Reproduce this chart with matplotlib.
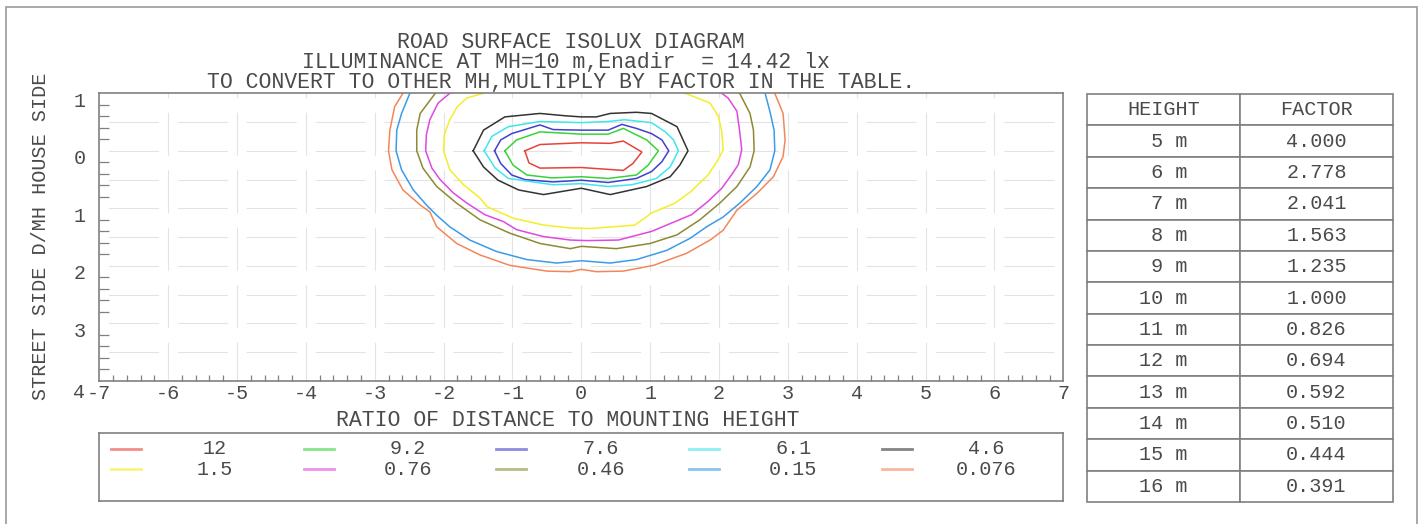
import matplotlib.pyplot as plt
from matplotlib.ticker import MultipleLocator, FixedLocator, FixedFormatter
from matplotlib.transforms import ScaledTranslation
from matplotlib.patches import Rectangle

plt.rcParams['font.family'] = ['Liberation Mono', 'DejaVu Sans Mono']
plt.rcParams['axes.unicode_minus'] = False
plt.rcParams['lines.scale_dashes'] = False

# isolux levels (lx) and their line colours
levels = ['12', '9.2', '7.6', '6.1', '4.6', '1.5', '0.76', '0.46', '0.15', '0.076']
colors = ['#e8423c', '#3ad13a', '#4040d0', '#3ee6ee', '#333333',
          '#f2ef2a', '#e048e0', '#8c8a32', '#3c9be8', '#f4865a']

# contour outlines: x = D/MH across, y = D/MH (house side negative)
x_12 = [-0.82, -0.76, -0.60, 0.0, 0.61, 0.75, 0.88, 0.61, 0.42, 0.0, -0.60, -0.82]
y_12 = [0.0, 0.21, 0.30, 0.29, 0.34, 0.22, 0.02, -0.17, -0.13, -0.14, -0.11, 0.0]

x_92 = [-1.11, -0.94, -0.60, 0.0, 0.39, 0.61, 0.95, 1.12, 0.97, 0.80, 0.39, 0.0, -0.43, -0.79, -0.99, -1.11]
y_92 = [0.0, -0.19, -0.33, -0.29, -0.29, -0.39, -0.19, 0.0, 0.25, 0.42, 0.48, 0.45, 0.47, 0.42, 0.25, 0.0]

x_76 = [-1.26, -1.17, -1.01, -0.60, -0.41, 0.0, 0.39, 0.59, 0.80, 1.02, 1.17, 1.27,
        1.17, 1.02, 0.80, 0.39, 0.0, -0.41, -0.82, -1.01, -1.17, -1.26]
y_76 = [0.0, -0.19, -0.30, -0.45, -0.37, -0.36, -0.36, -0.46, -0.39, -0.30, -0.19, 0.0,
        0.19, 0.36, 0.48, 0.55, 0.51, 0.54, 0.50, 0.42, 0.22, 0.0]

x_61 = [-1.41, -1.30, -1.06, -0.60, 0.0, 0.39, 0.63, 1.02, 1.22, 1.34, 1.41,
        1.29, 1.09, 0.73, 0.39, 0.0, -0.41, -1.06, -1.25, -1.41]
y_61 = [0.0, -0.25, -0.42, -0.51, -0.49, -0.51, -0.54, -0.49, -0.33, -0.19, 0.0,
        0.28, 0.48, 0.59, 0.62, 0.57, 0.59, 0.48, 0.30, 0.0]

x_46 = [-1.57, -1.42, -1.11, -0.60, -0.24, 0.0, 0.22, 0.42, 0.80, 1.02, 1.39, 1.55,
        1.43, 1.29, 0.95, 0.42, 0.0, -0.55, -0.91, -1.21, -1.42, -1.57]
y_46 = [0.0, -0.36, -0.59, -0.65, -0.61, -0.59, -0.59, -0.65, -0.67, -0.65, -0.42, 0.0,
        0.25, 0.45, 0.62, 0.76, 0.65, 0.76, 0.68, 0.51, 0.28, 0.0]

x_15 = [-1.42, -1.66, -1.80, -1.91, -1.99, -2.00, -1.91, -1.71, -1.47, -1.37, -0.99, -0.55, -0.16,
        0.13, 0.78, 1.02, 1.36, 1.60, 1.84, 1.99, 2.06, 2.04, 1.99, 1.87, 1.51]
y_15 = [-1.0, -0.92, -0.77, -0.54, -0.28, 0.0, 0.33, 0.59, 0.82, 0.97, 1.17, 1.29, 1.34,
        1.35, 1.29, 1.08, 0.91, 0.70, 0.42, 0.15, -0.02, -0.34, -0.60, -0.83, -1.0]

x_076 = [-1.91, -2.08, -2.20, -2.25, -2.26, -2.17, -2.05, -1.86, -1.66, -1.40, -1.13, -0.94, -0.55, -0.16,
         0.08, 0.54, 1.02, 1.36, 1.60, 1.84, 2.04, 2.18, 2.28, 2.33, 2.30, 2.26, 2.13, 2.04]
y_076 = [-1.0, -0.83, -0.54, -0.28, 0.0, 0.30, 0.50, 0.73, 0.91, 1.11, 1.23, 1.37, 1.49, 1.55,
         1.56, 1.55, 1.40, 1.23, 1.11, 0.88, 0.65, 0.42, 0.24, -0.02, -0.34, -0.69, -0.92, -1.0]

x_046 = [-2.12, -2.34, -2.39, -2.39, -2.30, -2.10, -1.81, -1.47, -1.04, -0.60, -0.16, 0.0,
         0.51, 1.00, 1.39, 1.72, 2.01, 2.26, 2.45, 2.51, 2.50, 2.45, 2.30]
y_046 = [-1.0, -0.65, -0.36, 0.0, 0.30, 0.62, 0.91, 1.20, 1.43, 1.61, 1.70, 1.66,
         1.70, 1.61, 1.46, 1.20, 0.91, 0.62, 0.28, 0.0, -0.36, -0.65, -1.0]

x_015 = [-2.49, -2.61, -2.68, -2.69, -2.61, -2.44, -2.25, -2.10, -1.91, -1.62, -1.23, -0.79, -0.36, 0.0,
         0.42, 0.80, 1.24, 1.58, 1.82, 2.06, 2.30, 2.55, 2.74, 2.81, 2.80, 2.74, 2.67]
y_015 = [-1.0, -0.65, -0.36, 0.0, 0.33, 0.68, 0.94, 1.12, 1.32, 1.55, 1.75, 1.89, 1.95, 1.91,
         1.95, 1.89, 1.73, 1.52, 1.32, 1.15, 0.91, 0.62, 0.33, 0.0, -0.36, -0.68, -1.0]

x_0076 = [-2.59, -2.71, -2.78, -2.80, -2.75, -2.59, -2.34, -2.20, -2.10, -1.81, -1.47, -1.04, -0.50, -0.16,
          0.0, 0.22, 0.61, 1.05, 1.53, 1.87, 2.06, 2.26, 2.55, 2.79, 2.93, 2.96, 2.93, 2.81]
y_0076 = [-1.0, -0.77, -0.36, 0.0, 0.33, 0.68, 0.94, 1.06, 1.32, 1.61, 1.81, 1.99, 2.09, 2.10,
          2.06, 2.10, 2.09, 1.99, 1.78, 1.55, 1.38, 1.03, 0.74, 0.45, 0.10, -0.19, -0.65, -1.0]

contour_x = [x_12, x_92, x_76, x_61, x_46, x_15, x_076, x_046, x_015, x_0076]
contour_y = [y_12, y_92, y_76, y_61, y_46, y_15, y_076, y_046, y_015, y_0076]

ytick_vals = [-1, 0, 1, 2, 3, 4]
ytick_labels = ['1', '0', '1', '2', '3', '4']

heights = [5, 6, 7, 8, 9, 10, 11, 12, 13, 14, 15, 16]
factors = [4.000, 2.778, 2.041, 1.563, 1.235, 1.000, 0.826, 0.694, 0.592, 0.510, 0.444, 0.391]

TXT = '#4a4a4a'
EDGE = '#808080'
GRID = '#e3e3e3'
FS = 14.5
FS_TITLE = 15.5
W, H = 1423, 524


def fx(px):
    return px / W


def fy(py):
    return 1 - py / H


fig = plt.figure(figsize=(W / 100, H / 100), dpi=100)
# page frame (its lower edge runs past the bottom of the picture)
fig.add_artist(Rectangle((fx(6), fy(540)), fx(1411), 533 / H, transform=fig.transFigure,
                         fill=False, edgecolor='#9a9a9a', lw=1.2, clip_on=False))

# main isolux plot
ax = fig.add_axes([fx(99.3), fy(381), (1063.3 - 99.3) / W, (381 - 93.3) / H])
ax.set_xlim(-7, 7)
ax.set_ylim(4, -1)

for x in range(-6, 7):
    ax.axvline(x, color=GRID, lw=0.8, linestyle=(3.1, (31, 10.4)))
for y in [-0.5, 0, 0.5, 1, 1.5, 2, 2.5, 3, 3.5]:
    ax.axhline(y, color=GRID, lw=0.8, linestyle=(42.8, (36, 13.6)))

for xs, ys, c in zip(contour_x, contour_y, colors):
    ax.plot(xs, ys, color=c, lw=1.1)

for s in ax.spines.values():
    s.set_color(EDGE)
    s.set_linewidth(1.2)

ax.xaxis.set_major_locator(MultipleLocator(1))
ax.xaxis.set_minor_locator(MultipleLocator(0.2))
ax.yaxis.set_major_locator(FixedLocator(ytick_vals))
ax.yaxis.set_major_formatter(FixedFormatter(ytick_labels))
ax.yaxis.set_minor_locator(MultipleLocator(0.2))
ax.tick_params(which='major', length=0, labelsize=FS, labelcolor=TXT)
ax.tick_params(axis='x', which='major', pad=2)
ax.tick_params(axis='y', which='major', pad=10)
ax.tick_params(axis='x', which='minor', direction='in', length=4.5, width=0.9, color=EDGE)
ax.tick_params(axis='y', which='minor', direction='in', length=7.5, width=0.9, color=EDGE)

ax.set_xlabel('RATIO OF DISTANCE TO MOUNTING HEIGHT', fontsize=FS_TITLE, color=TXT, va='center')
ax.xaxis.set_label_coords((568 - 99.3) / 964, (381 - 420) / 287.7)
ax.set_ylabel('STREET SIDE D/MH HOUSE SIDE', fontsize=FS, color=TXT, va='center')
ax.yaxis.set_label_coords((41 - 99.3) / 964, (381 - 236.5) / 287.7)

fig.text(fx(571), fy(42), 'ROAD SURFACE ISOLUX DIAGRAM', ha='center', va='center',
         fontsize=FS_TITLE, color=TXT)
fig.text(fx(566), fy(63), 'ILLUMINANCE AT MH=10 m,Enadir  = 14.42 lx', ha='center', va='center',
         fontsize=FS_TITLE, color=TXT)
fig.text(fx(561), fy(83), 'TO CONVERT TO OTHER MH,MULTIPLY BY FACTOR IN THE TABLE.', ha='center',
         va='center', fontsize=FS_TITLE, color=TXT)

# legend box
lax = fig.add_axes([fx(99.3), fy(501), 964 / W, 68 / H])
lax.set_xlim(0, 1)
lax.set_ylim(0, 1)
lax.set_xticks([])
lax.set_yticks([])
for s in lax.spines.values():
    s.set_color(EDGE)
    s.set_linewidth(1.2)
for i, (lev, c) in enumerate(zip(levels, colors)):
    row, col = divmod(i, 5)
    ly = [0.765, 0.47][row]
    lax.plot([0.012 + 0.2 * col, 0.043 + 0.2 * col], [ly, ly], color=c, lw=2, alpha=0.6)
    lax.text(0.12 + 0.2 * col, ly, lev, ha='center', va='center', fontsize=FS, color=TXT)

# conversion table
tax = fig.add_axes([fx(1087), fy(502), (1393 - 1087) / W, (502 - 94) / H])
tax.axis('off')
rows = [[f'{h:2d} m', f'{f:.3f}'] for h, f in zip(heights, factors)]
tbl = tax.table(cellText=rows, colLabels=['HEIGHT', 'FACTOR'], cellLoc='center', bbox=[0, 0, 1, 1])
tbl.auto_set_font_size(False)
tbl.set_fontsize(FS)
for cell in tbl.get_celld().values():
    cell.set_edgecolor(EDGE)
    cell.set_linewidth(1.2)
    cell.get_text().set_color(TXT)

# y tick labels sit a little below their ticks; the bottom one shares the x label row
fig.canvas.draw()
for lab in ax.get_yticklabels():
    dy = -9 if lab.get_position()[1] == 4 else -6
    lab.set_transform(lab.get_transform() + ScaledTranslation(0, dy / 100, fig.dpi_scale_trans))

fig.savefig('out.png', dpi=100)
